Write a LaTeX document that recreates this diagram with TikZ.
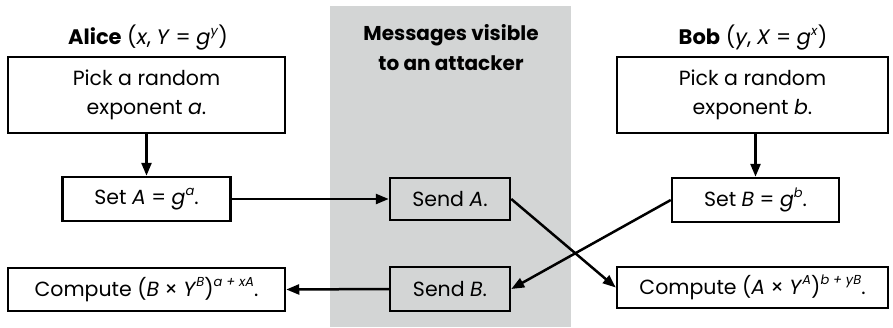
\documentclass[tikz,border=0pt]{standalone}
\usepackage{fontspec}
\setmainfont{Poppins}
\usetikzlibrary{arrows.meta}
\definecolor{panel}{RGB}{211,213,213}
\newcommand{\vr}[1]{\textit{#1}}
\newcommand{\supr}[1]{\raisebox{0.85ex}{\fontsize{13}{13}\selectfont\textit{#1}}}
\begin{document}
\begin{tikzpicture}[x=1pt,y=-1pt,
  box/.style={draw=black,line width=2.5pt,fill=white,inner sep=0pt,align=center,
    font=\fontsize{20.5}{29}\selectfont},
  ttl/.style={align=center,font=\fontsize{21}{29}\selectfont},
  arr/.style={line width=2.5pt,-{Triangle[length=13pt,width=10pt]}}]
\useasboundingbox (0,0) rectangle (893,327);
\fill[panel] (330,6) rectangle (571,327);
\node[ttl] (talice) at (148,38) {\textbf{Alice} (\vr{x}, \vr{Y} = \vr{g}\supr{y})};
\node[ttl,font=\bfseries\fontsize{20}{30}\selectfont] (tmsg) at (451,48) {Messages visible\\to an attacker};
\node[ttl] (tbob) at (753,38) {\textbf{Bob} (\vr{y}, \vr{X} = \vr{g}\supr{x})};
\node[box,minimum width=277pt,minimum height=76pt] (pa) at (146.5,95) {Pick a random\\exponent \vr{a}.};
\node[box,minimum width=168pt,minimum height=44pt] (sa) at (146.5,199) {Set \vr{A} = \vr{g}\supr{a}.};
\node[box,minimum width=277pt,minimum height=43pt] (ca) at (146.5,289.5) {Compute (\vr{B} × \vr{Y}\supr{B})\supr{a + xA}.};
\node[box,minimum width=120pt,minimum height=42pt,fill=panel] (sndA) at (450,199) {Send \vr{A}.};
\node[box,minimum width=120pt,minimum height=44pt,fill=panel] (sndB) at (450,289) {Send \vr{B}.};
\node[box,minimum width=271pt,minimum height=76pt] (pb) at (752.5,95) {Pick a random\\exponent \vr{b}.};
\node[box,minimum width=167pt,minimum height=44pt] (sb) at (755.5,200) {Set \vr{B} = \vr{g}\supr{b}.};
\node[box,minimum width=271pt,minimum height=41pt] (cb) at (752.5,287.5) {Compute (\vr{A} × \vr{Y}\supr{A})\supr{b + yB}.};
\draw[arr] (pa.south) -- (sa.north);
\draw[arr] (sb.north |- pb.south) -- (sb.north);
\draw[arr] (sa.east) -- (sndA.west);
\draw[arr] (sndA.east) -- (cb.west);
\draw[arr] (sb.west) -- (sndB.east);
\draw[arr] (sndB.west) -- (ca.east);
\end{tikzpicture}
\end{document}
